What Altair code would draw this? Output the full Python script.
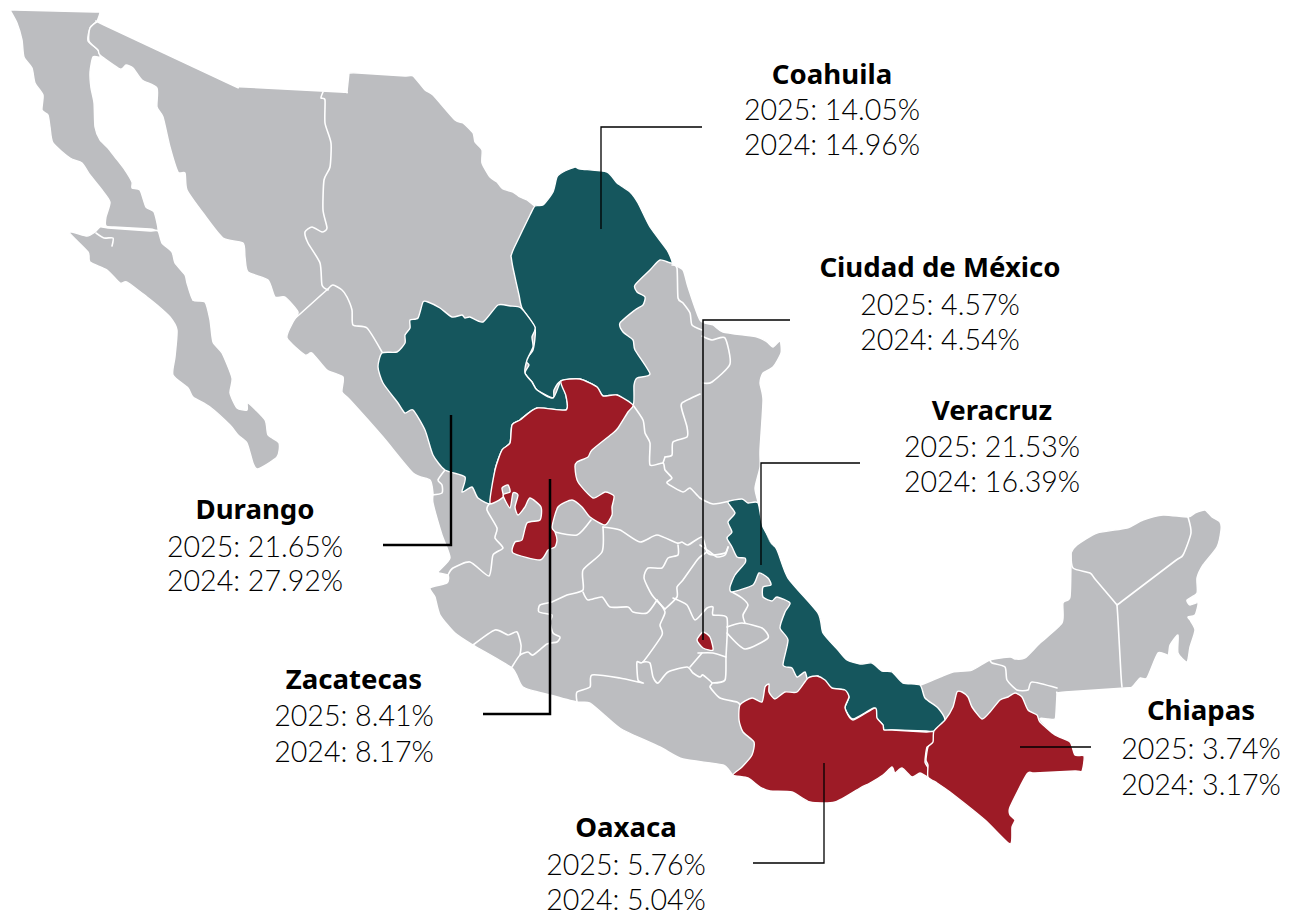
import altair as alt
import pandas as pd

GRAY = "#BCBDC0"
TEAL = "#15565D"
RED = "#9D1B26"

# Outline coordinates, in picture units
baja_norte = [(10,10),(15,10),(95,12),(100,12),(97,21),(90,28),(88,41),(98,50),(100,57),(93,57),(90,72),(91,88),(94,103),(95,127),(100,140),(108,148),(115,157),(125,170),(132,182),(132,188),(140,190),(146,207),(154,212),(158,230),(150,229),(114,227),(106,226),(106,217),(110,202),(102,190),(90,175),(82,163),(70,158),(53,143),(50,127),(48,115),(42,110),(43,95),(35,83),(32,68),(24,57),(22,40),(17,23),(10,10)]
baja_sur = [(69,232),(87,236),(95,232),(100,227),(108,228),(150,231),(158,231),(162,243),(172,252),(175,263),(185,275),(187,283),(193,300),(205,302),(210,320),(213,342),(222,353),(232,378),(230,393),(237,408),(247,410),(248,403),(265,420),(268,435),(279,443),(277,457),(258,469),(253,463),(247,443),(238,435),(230,425),(210,407),(193,397),(188,388),(173,375),(175,357),(177,330),(170,317),(157,305),(147,297),(127,282),(120,283),(107,270),(90,262),(88,252)]
mainland = [(97,22),(104,25),(230,84),(237,87),(245,87),(340,92),(347,92),(347,92),(349,73),(349,73),(358,73),(405,76),(413,76),(425,90),(433,95),(455,120),(463,123),(473,133),(475,142),(482,150),(482,163),(490,177),(497,182),(503,189),(513,192),(520,197),(527,200),(535,206),(543,205),(553,192),(557,177),(563,172),(575,167),(580,169),(607,172),(617,183),(630,192),(638,203),(650,227),(667,250),(672,263),(683,270),(688,287),(700,320),(713,325),(723,332),(757,337),(767,342),(773,347),(780,341),(781,353),(773,367),(763,373),(760,383),(763,400),(760,450),(760,467),(755,488),(758,502),(763,527),(777,550),(788,578),(818,613),(823,633),(838,650),(847,660),(860,664),(872,663),(882,671),(892,672),(903,683),(920,685),(940,677),(953,672),(972,670),(990,660),(1010,657),(1015,659),(1025,658),(1040,643),(1062,623),(1063,603),(1070,597),(1071,560),(1071,553),(1077,545),(1097,533),(1127,528),(1143,520),(1163,515),(1188,517),(1195,513),(1205,510),(1212,517),(1220,522),(1221,530),(1217,547),(1203,565),(1197,578),(1197,593),(1187,600),(1190,605),(1198,603),(1195,615),(1188,617),(1190,620),(1195,630),(1190,647),(1187,662),(1178,653),(1178,635),(1170,645),(1168,655),(1158,653),(1147,678),(1140,678),(1132,687),(1125,688),(1065,692),(1057,693),(1057,693),(1056,712),(1055,719),(1048,719),(1040,719),(1055,735),(1070,743),(1075,755),(1084,756),(1082,771),(1075,771),(1035,773),(1027,774),(1010,807),(1010,815),(1015,820),(1012,827),(1010,844),(985,820),(950,792),(937,783),(928,777),(920,773),(912,777),(902,768),(895,773),(892,767),(883,775),(870,783),(860,788),(835,802),(810,802),(792,792),(770,791),(760,787),(748,778),(733,775),(723,765),(683,759),(660,747),(623,730),(610,720),(590,703),(577,702),(550,695),(523,687),(512,668),(473,645),(455,633),(440,615),(435,597),(430,588),(447,583),(448,575),(438,572),(450,558),(442,535),(433,503),(433,493),(430,480),(413,473),(383,437),(350,400),(342,392),(343,377),(327,370),(312,353),(305,355),(287,338),(293,322),(298,312),(285,297),(275,297),(268,280),(248,272),(245,257),(243,243),(223,238),(203,213),(187,190),(185,173),(178,172),(170,147),(163,117),(157,107),(157,88),(142,80),(133,68),(126,65),(120,69),(100,55),(98,50),(89,41),(90,28)]

coahuila = [(535,206),(543,205),(553,192),(557,177),(563,172),(575,167),(580,169),(607,172),(617,183),(630,192),(638,203),(650,227),(667,250),(672,263),(660,260),(650,270),(635,285),(637,292),(645,297),(643,305),(635,310),(620,323),(623,332),(633,340),(635,350),(650,374),(637,378),(634,385),(633,405),(617,395),(603,396),(597,387),(580,379),(561,381),(554,390),(553,398),(537,390),(532,382),(525,373),(529,365),(525,360),(533,350),(535,328),(522,308),(519,295),(513,268),(511,256),(511,256),(514,248),(530,215)]
durango = [(521,308),(535,327),(532,337),(533,347),(527,360),(525,373),(532,382),(537,390),(553,398),(561,381),(566,396),(566,410),(537,408),(520,420),(512,425),(510,443),(502,450),(495,470),(492,503),(478,498),(472,487),(462,492),(465,477),(445,470),(433,455),(425,430),(413,410),(405,413),(398,403),(383,383),(378,367),(382,353),(397,352),(405,343),(405,335),(410,328),(410,320),(418,318),(423,302),(428,302),(440,308),(452,317),(462,315),(465,318),(470,317),(483,322),(498,305),(510,306)]
zacatecas = [(561,381),(580,379),(597,387),(603,396),(617,395),(633,405),(628,412),(618,428),(613,433),(592,450),(588,457),(577,462),(575,467),(578,482),(593,498),(605,492),(614,496),(612,507),(612,515),(605,525),(590,517),(582,507),(572,500),(558,507),(552,527),(555,532),(557,540),(555,547),(548,550),(540,560),(513,553),(515,542),(522,540),(527,523),(540,520),(541,507),(530,498),(525,507),(518,515),(515,507),(518,495),(513,493),(510,508),(503,495),(510,492),(508,485),(502,488),(503,497),(490,503),(495,470),(502,450),(510,443),(512,425),(520,420),(537,408),(566,410),(566,396)]
veracruz = [(728,502),(742,499),(748,503),(758,503),(763,527),(777,550),(788,578),(818,613),(823,633),(838,650),(847,660),(860,664),(872,663),(882,671),(892,672),(903,683),(920,685),(925,698),(938,708),(945,720),(934,731),(926,731),(892,730),(884,730),(883,725),(876,717),(874,708),(853,719),(845,708),(849,697),(843,690),(830,688),(818,676),(808,680),(805,672),(797,677),(792,668),(783,665),(788,640),(780,628),(785,612),(790,603),(777,597),(772,601),(763,597),(763,587),(771,585),(768,578),(759,573),(753,585),(732,592),(730,587),(735,575),(745,563),(745,558),(737,557),(732,547),(727,538),(732,532),(728,522),(735,513)]
oaxaca = [(740,705),(752,698),(762,702),(765,687),(769,684),(769,692),(775,699),(785,692),(797,692),(808,678),(817,676),(825,680),(832,688),(845,690),(849,697),(845,708),(853,720),(875,708),(877,718),(883,725),(884,730),(892,730),(926,732),(934,732),(933,744),(927,747),(925,762),(928,768),(928,777),(920,773),(912,777),(902,768),(895,773),(892,767),(883,775),(870,783),(860,788),(835,802),(810,802),(792,792),(770,791),(760,787),(748,778),(733,775),(742,767),(752,755),(754,742),(743,732),(739,720)]
chiapas = [(934,731),(945,720),(953,707),(957,692),(962,692),(968,697),(972,707),(982,719),(990,712),(1000,700),(1008,697),(1015,693),(1022,697),(1028,710),(1037,715),(1040,722),(1055,735),(1070,742),(1075,755),(1084,756),(1082,771),(1075,771),(1035,773),(1027,774),(1010,807),(1010,815),(1015,820),(1012,827),(1010,844),(985,820),(950,792),(937,783),(928,777),(928,765),(926,760),(928,747),(933,742)]
cdmx = [(697,640),(703,632),(710,637),(713,650),(703,648)]
lagoon = [(764,527),(776,538),(778,542),(775,547),(770,542)]

border_lines = [
    [(323,92),(321,98),(325,100),(325,123),(331,143),(330,167),(324,180),(323,210),(327,228),(322,232),(312,227),(305,232),(308,243),(320,263),(322,285),(328,290)],
    [(328,289),(333,285),(342,290),(347,297),(352,310),(353,325),(367,328),(382,352)],
    [(293,320),(300,314),(320,296),(328,289)],
    [(432,495),(442,493),(442,485),(438,480),(445,470)],
    [(490,503),(487,510),(497,528),(495,538),(503,548),(493,555),(489,576),(470,562),(453,568),(448,575)],
    [(555,532),(577,535),(591,520)],
    [(603,527),(602,552),(583,570),(583,590),(567,595),(552,602),(540,605),(539,612),(552,615),(550,622),(553,633),(560,637),(557,642),(547,644),(533,655),(528,652),(520,655),(512,667)],
    [(473,645),(495,630),(508,635),(517,632),(521,645),(520,655)],
    [(583,592),(588,600),(602,597),(610,607),(628,607),(633,612),(647,613),(657,600)],
    [(603,527),(620,530),(640,542),(657,535),(677,543),(682,542),(688,545),(702,537),(707,552),(713,555),(725,553),(728,547)],
    [(678,545),(678,555),(668,558),(662,568),(648,568),(644,578),(652,595),(665,609)],
    [(707,552),(698,559),(683,580),(677,587),(677,597),(665,609)],
    [(657,600),(665,612),(660,625),(662,635),(643,662),(637,662),(638,680),(643,683),(620,678),(592,675),(590,687),(577,692),(577,702)],
    [(643,662),(650,663),(653,677),(658,683),(668,672),(687,667),(693,673),(700,677),(703,675),(712,683),(710,687),(720,698),(737,702),(740,705)],
    [(673,598),(687,605),(695,620),(707,608),(713,607),(713,615),(727,618),(726,657),(725,680),(712,683)],
    [(698,653),(713,653),(726,657)],
    [(702,653),(690,667)],
    [(727,627),(742,623),(762,628),(768,638),(745,649),(727,633)],
    [(732,592),(742,598),(748,605),(743,615),(745,623)],
    [(700,545),(710,552),(717,557),(725,555),(728,547)],
    [(633,405),(643,420),(645,433),(650,443),(650,465),(663,463),(665,470),(672,478),(667,483),(683,492),(690,488),(700,498),(713,504),(730,501)],
    [(665,457),(672,455),(673,442),(687,437),(687,427),(682,410),(682,403),(700,394)],
    [(663,463),(665,457)],
    [(703,383),(712,382),(730,364),(725,338),(712,340),(702,336)],
    [(672,265),(677,268),(678,298),(683,303),(690,313),(692,325),(702,330)],
    [(1071,553),(1073,568),(1090,573),(1095,579),(1112,599),(1117,605),(1117,605),(1118,620),(1121,675),(1122,687)],
    [(1117,605),(1125,599),(1175,561),(1183,555),(1191,533),(1188,517)],
    [(990,660),(992,663),(1005,667),(1007,680),(1017,690),(1028,690),(1032,682),(1057,688)],
    [(96,233),(104,238),(113,238),(112,246)],
    [(193,300),(192,290),(197,292),(198,300)],
]

leaders = {
    "Coahuila": [(702,127),(601,127),(601,229)],
    "Ciudad de México": [(790,320),(703,320),(703,640)],
    "Veracruz": [(860,463),(761,463),(761,565)],
    "Durango": [(383,545),(451,545),(451,415)],
    "Zacatecas": [(483,714),(550,714),(550,479)],
    "Oaxaca": [(753,863),(824,863),(824,763)],
    "Chiapas": [(1020,747),(1091,747)],
}
leader_widths = {"Coahuila":1.3,"Ciudad de México":1.5,"Veracruz":1.3,"Durango":2.4,"Zacatecas":2.5,"Oaxaca":1.3,"Chiapas":1.3}

label_names = ["Coahuila","Ciudad de México","Veracruz","Durango","Zacatecas","Oaxaca","Chiapas"]
label_2025 = ["2025: 14.05%","2025: 4.57%","2025: 21.53%","2025: 21.65%","2025: 8.41%","2025: 5.76%","2025: 3.74%"]
label_2024 = ["2024: 14.96%","2024: 4.54%","2024: 16.39%","2024: 27.92%","2024: 8.17%","2024: 5.04%","2024: 3.17%"]
label_x = [832,940,992,255,354,626,1201]
name_y = [76,269,412,511,681,829,712]
y_2025 = [110.5,305.5,447.5,547.5,716.5,865.5,749.5]
y_2024 = [145.5,340.5,482.5,581.5,752.5,900.5,785.5]

W, H = 1275, 910
TENSION = 0.35
X = alt.X("x:Q", scale=alt.Scale(domain=[8, 8 + W]), axis=None)
Y = alt.Y("y:Q", scale=alt.Scale(domain=[8 + H, 8]), axis=None)

def frame(shapes):
    rows = []
    for name, pts in shapes.items():
        for i, (x, y) in enumerate(pts):
            rows.append({"shape": name, "i": i, "x": x, "y": y})
    return pd.DataFrame(rows)

def polys(shapes, fill, sw=1.4):
    return alt.Chart(frame(shapes)).mark_line(
        interpolate="cardinal-closed", tension=TENSION, fill=fill, stroke="white", strokeWidth=sw, strokeJoin="round"
    ).encode(x=X, y=Y, detail="shape:N", order="i:Q")

def lines(shapes, color, width):
    return alt.Chart(frame(shapes)).mark_line(
        interpolate="cardinal", tension=TENSION, stroke=color, strokeWidth=width, strokeJoin="round", strokeCap="round"
    ).encode(x=X, y=Y, detail="shape:N", order="i:Q")

layers = [
    polys({"bn": baja_norte, "bs": baja_sur, "main": mainland}, GRAY),
    lines({f"b{i}": b for i, b in enumerate(border_lines)}, "white", 1.6),
    polys({"coa": coahuila, "dgo": durango, "ver": veracruz}, TEAL),
    polys({"zac": zacatecas, "oax": oaxaca, "chi": chiapas, "cdmx": cdmx}, RED),
    polys({"lagoon": lagoon}, "white", 0.5),
]
for name, pts in leaders.items():
    df = frame({name: pts})
    layers.append(alt.Chart(df).mark_line(stroke="black", strokeWidth=leader_widths[name], strokeJoin="miter").encode(x=X, y=Y, order="i:Q"))

labels = pd.DataFrame({"name": label_names, "a": label_2025, "b": label_2024, "x": label_x,
                       "yn": name_y, "y25": y_2025, "y24": y_2024})
layers.append(alt.Chart(labels).mark_text(font="Noto Sans", fontWeight=700, fontSize=27.6, color="black", align="center", baseline="middle").encode(
    x=X, y=alt.Y("yn:Q", scale=alt.Scale(domain=[8 + H, 8]), axis=None), text="name:N"))
layers.append(alt.Chart(labels).mark_text(font="Lato", fontWeight=300, fontSize=28.6, color="black", align="center", baseline="middle").encode(
    x=X, y=alt.Y("y25:Q", scale=alt.Scale(domain=[8 + H, 8]), axis=None), text="a:N"))
layers.append(alt.Chart(labels).mark_text(font="Lato", fontWeight=300, fontSize=28.6, color="black", align="center", baseline="middle").encode(
    x=X, y=alt.Y("y24:Q", scale=alt.Scale(domain=[8 + H, 8]), axis=None), text="b:N"))

chart = alt.layer(*layers).properties(
    width=W, height=H, padding=0, autosize=alt.AutoSizeParams(type="none"), background="white"
).configure_view(stroke=None)

chart.save("out.html", embed_options={"renderer": "svg", "actions": False})
